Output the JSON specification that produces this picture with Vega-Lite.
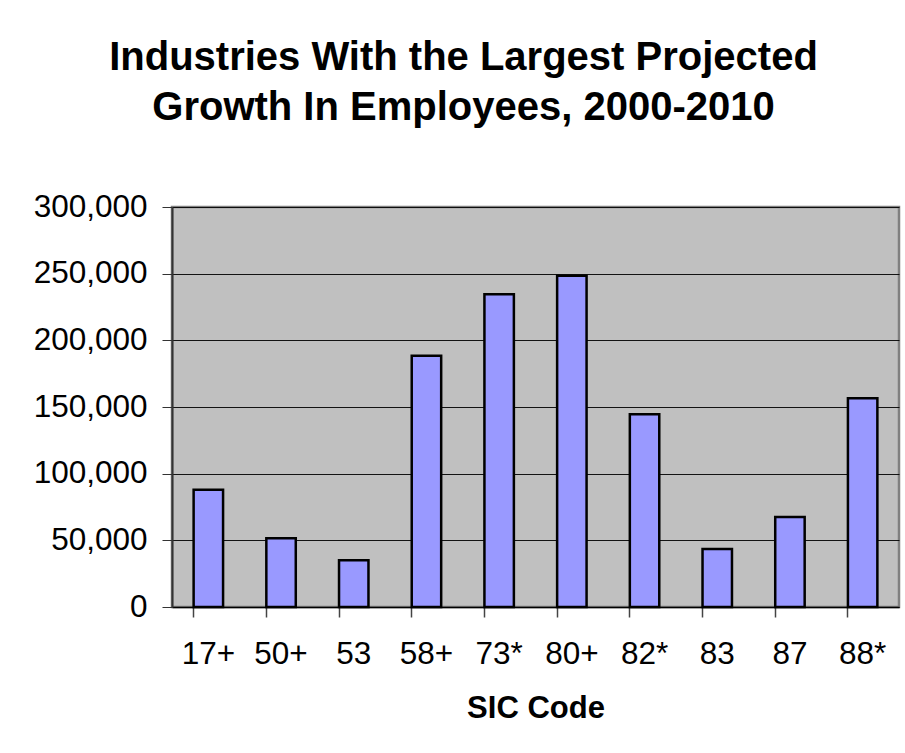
{
  "$schema": "https://vega.github.io/schema/vega-lite/v6.json",
  "autosize": {"type": "none"},
  "padding": {"left": 172, "top": 207, "right": 6, "bottom": 146},
  "width": 727,
  "height": 400,
  "background": "white",
  "title": {
    "text": ["Industries With the Largest Projected", "Growth In Employees, 2000-2010"],
    "font": "Liberation Sans",
    "fontSize": 40,
    "fontWeight": "bold",
    "color": "black",
    "anchor": "middle",
    "frame": "group",
    "dx": -72,
    "dy": 54,
    "lineHeight": 50,
    "baseline": "alphabetic",
    "offset": 85
  },
  "data": {
    "values": [
      {"code": "17+", "growth": 88000},
      {"code": "50+", "growth": 51500},
      {"code": "53", "growth": 35000},
      {"code": "58+", "growth": 188500},
      {"code": "73*", "growth": 234500},
      {"code": "80+", "growth": 248500},
      {"code": "82*", "growth": 144500},
      {"code": "83", "growth": 43500},
      {"code": "87", "growth": 67500},
      {"code": "88*", "growth": 156500}
    ]
  },
  "mark": {"type": "bar", "fill": "#9999FF", "stroke": "black", "strokeWidth": 2.5},
  "encoding": {
    "x": {
      "field": "code",
      "type": "nominal",
      "sort": null,
      "scale": {"paddingInner": 0.595, "paddingOuter": 0.2975},
      "axis": {
        "title": "SIC Code",
        "titleFont": "Liberation Sans",
        "titleFontSize": 31,
        "titleFontWeight": "bold",
        "titleColor": "black",
        "titlePadding": 24,
        "labelFont": "Liberation Sans",
        "labelFontSize": 31.5,
        "labelColor": "black",
        "labelAngle": 0,
        "labelPadding": 21,
        "bandPosition": 0,
        "tickSize": 10,
        "tickColor": "#444444",
        "tickWidth": 1.5,
        "domainColor": "black",
        "domainWidth": 1.5,
        "grid": false
      }
    },
    "y": {
      "field": "growth",
      "type": "quantitative",
      "scale": {"domain": [0, 300000], "nice": false},
      "axis": {
        "title": null,
        "values": [0, 50000, 100000, 150000, 200000, 250000, 300000],
        "format": ",d",
        "labelFont": "Liberation Sans",
        "labelFontSize": 31.5,
        "labelColor": "black",
        "labelPadding": 15,
        "tickSize": 10,
        "tickColor": "#333333",
        "domainColor": "#333333",
        "domainWidth": 2,
        "grid": true,
        "gridColor": "black",
        "gridWidth": 1,
        "gridOpacity": 0.9
      }
    }
  },
  "config": {
    "view": {"fill": "#C0C0C0", "stroke": "#808080", "strokeWidth": 2.5}
  }
}
